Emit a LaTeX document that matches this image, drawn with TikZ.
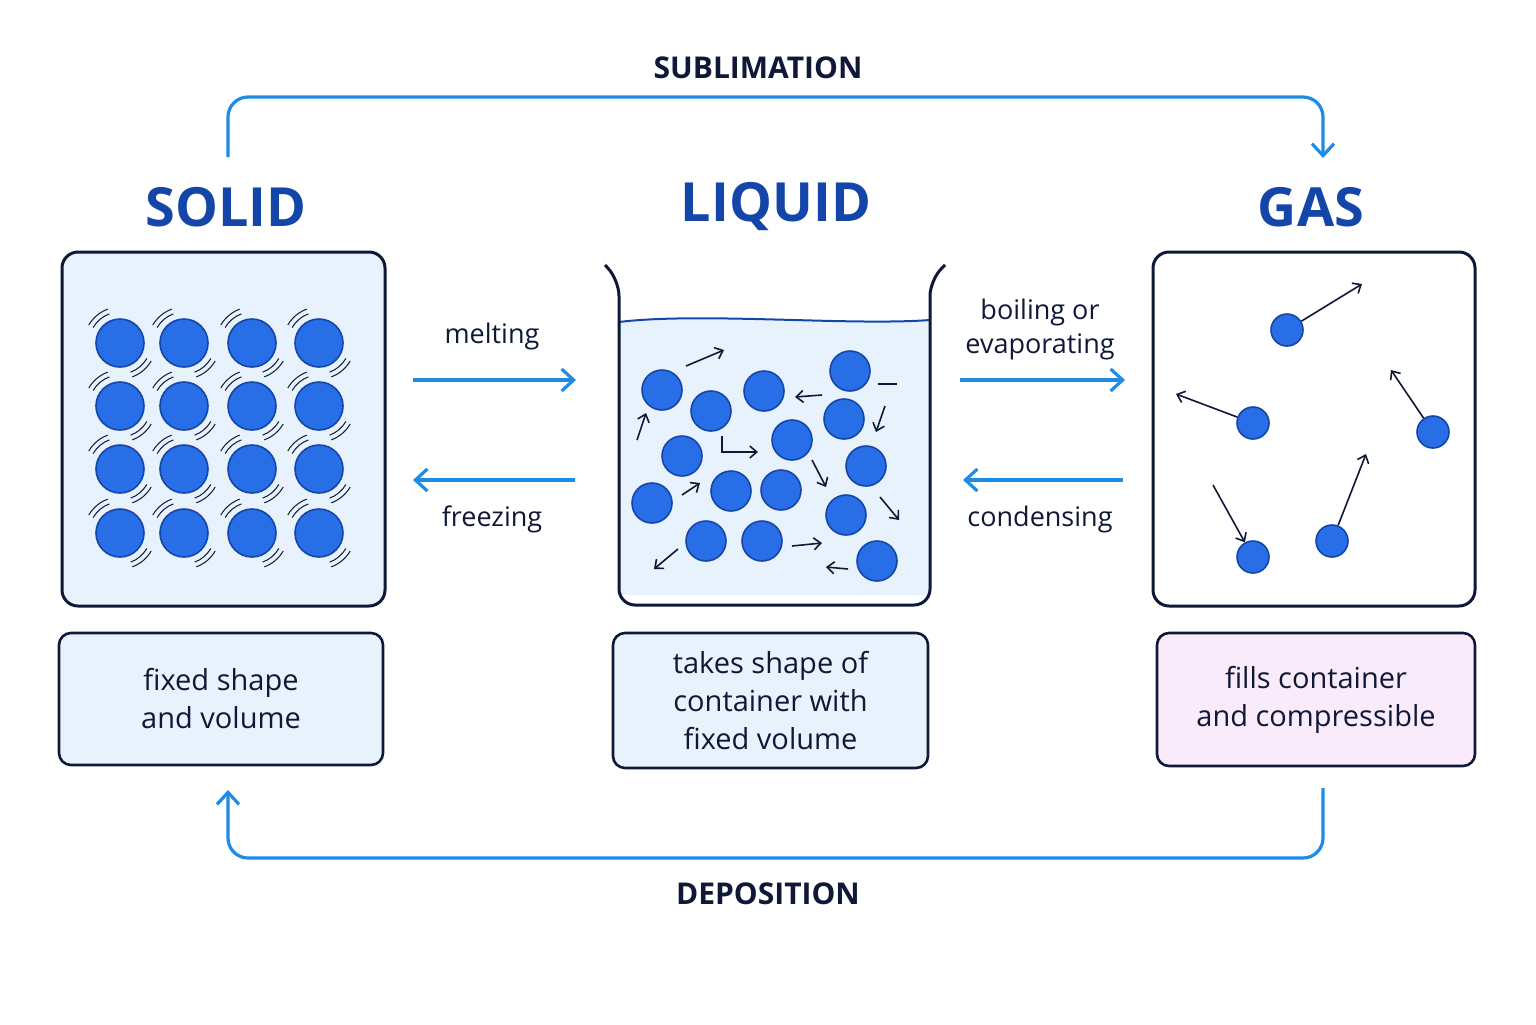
\documentclass[tikz,border=0pt]{standalone}
\usepackage{fontspec}
\setmainfont{Open Sans}
\usetikzlibrary{arrows.meta}
\definecolor{flowblue}{RGB}{30,140,230}
\definecolor{navy}{RGB}{15,25,55}
\definecolor{titleblue}{RGB}{20,70,170}
\definecolor{ballblue}{RGB}{40,110,230}
\definecolor{paleblue}{RGB}{232,242,252}
\definecolor{palepink}{RGB}{250,235,250}
\tikzset{
  flow/.style={draw=flowblue, line width=1.6pt, -{Straight Barb[length=6pt,width=11pt]}, rounded corners=10pt},
  phase/.style={font=\bfseries\fontsize{27}{30}\selectfont, text=titleblue},
  proc/.style={font=\fontsize{13.5}{16.5}\selectfont, text=navy, align=center},
  caption/.style={draw=navy, line width=1.3pt, rounded corners=6pt, font=\fontsize{14.5}{19}\selectfont, text=navy, align=center},
  ball/.style={circle, draw=titleblue, fill=ballblue, line width=0.8pt, inner sep=0pt},
  move/.style={draw=navy, line width=0.8pt, -{Straight Barb[length=3.5pt,width=6pt]}},
}
\begin{document}
\begin{tikzpicture}[x=0.5pt, y=-0.5pt]
  \useasboundingbox (0,0) rectangle (1536,1024);

  % titles
  \node[phase] (tsolid) at (226,207) {SOLID};
  \node[phase] (tliquid) at (776,207) {LIQUID};
  \node[phase] (tgas) at (1311,207) {GAS};

  % solid
  \draw[navy, fill=paleblue, line width=1.5pt, rounded corners=8pt] (62,252) rectangle (385,606);
  \foreach \x [count=\i] in {120,184,252,319}
    \foreach \y [count=\j] in {343,406,469,533} {
      \node[ball, minimum size=24pt] (s\i\j) at (\x,\y) {};
      \foreach \r in {15.5pt,18pt} {
        \draw[navy, line width=0.5pt] ([shift={(110:\r)}]s\i\j.center) arc (110:150:\r);
        \draw[navy, line width=0.5pt] ([shift={(290:\r)}]s\i\j.center) arc (290:330:\r);
      }
    }

  % liquid
  \fill[paleblue] (619,322) .. controls (700,312) and (850,326) .. (930,320) -- (930,595) -- (619,595) -- cycle;
  \draw[titleblue, line width=1pt] (619,322) .. controls (700,312) and (850,326) .. (930,320);
  \draw[navy, line width=1.5pt, rounded corners=8pt] (605,265) -- (619,280) -- (619,605) -- (930,605) -- (930,280) -- (945,265);
  \foreach \x/\y [count=\k] in {662/390,711/411,764/391,850/371,844/419,792/440,682/456,866/466,731/491,781/490,652/503,846/515,706/541,762/541,877/561}
    \node[ball, minimum size=20pt] (l\k) at (\x,\y) {};
  \draw[move] (686,366) -- (724,350);
  \draw[move] (637,440) -- (646,413);
  \draw[move] (722,436) -- (722,452) -- (758,452);
  \draw[move] (822,395) -- (795,397);
  \draw[navy, line width=0.8pt] (878,384) -- (897,384);
  \draw[move] (885,406) -- (876,432);
  \draw[move] (812,460) -- (826,487);
  \draw[move] (880,497) -- (899,520);
  \draw[move] (682,495) -- (700,483);
  \draw[move] (678,549) -- (654,569);
  \draw[move] (792,546) -- (822,543);
  \draw[move] (848,569) -- (826,567);

  % gas
  \draw[navy, fill=white, line width=1.5pt, rounded corners=8pt] (1153,252) rectangle (1475,606);
  \node[ball, minimum size=16pt] (g1) at (1287,330) {};
  \node[ball, minimum size=16pt] (g2) at (1253,423) {};
  \node[ball, minimum size=16pt] (g3) at (1433,432) {};
  \node[ball, minimum size=16pt] (g4) at (1332,541) {};
  \node[ball, minimum size=16pt] (g5) at (1253,557) {};
  \coordinate (m1) at (1362,284);
  \coordinate (m2) at (1176,394);
  \coordinate (m3) at (1391,370);
  \coordinate (m4) at (1366,454);
  \coordinate (m5) at (1213,485);
  \draw[move] (g1) -- (m1);
  \draw[move] (g2) -- (m2);
  \draw[move] (g3) -- (m3);
  \draw[move] (g4) -- (m4);
  \draw[move] (m5) -- (g5);

  % captions
  \node[caption, fill=paleblue, minimum width=162pt, minimum height=66pt] (csolid) at (221,699) {fixed shape\\and volume};
  \node[caption, fill=paleblue, minimum width=157.5pt, minimum height=67.5pt] (cliquid) at (770.5,700.5) {takes shape of\\container with\\fixed volume};
  \node[caption, fill=palepink, minimum width=159pt, minimum height=66.5pt] (cgas) at (1316,699.5) {fills container\\and compressible};

  % transitions between neighbours
  \coordinate (melt1) at (413,380);  \coordinate (melt2) at (576,380);
  \coordinate (frz1) at (575,480);   \coordinate (frz2) at (413,480);
  \coordinate (boil1) at (960,380);  \coordinate (boil2) at (1125,380);
  \coordinate (cond1) at (1123,480); \coordinate (cond2) at (963,480);
  \draw[flow] (melt1) -- (melt2);
  \draw[flow] (frz1) -- (frz2);
  \draw[flow] (boil1) -- (boil2);
  \draw[flow] (cond1) -- (cond2);
  \node[proc] (lmelt) at (492,336) {melting};
  \node[proc] (lfrz) at (492,519) {freezing};
  \node[proc, font=\fontsize{13.5}{17}\selectfont] (lboil) at (1040,329) {boiling or\\evaporating};
  \node[proc] (lcond) at (1040,519) {condensing};

  % sublimation and deposition
  \coordinate (sub1) at (228,157);
  \coordinate (sub2) at (1323,158);
  \draw[flow] (sub1) -- (228,97) -- (1323,97) -- (sub2);
  \node[proc, font=\bfseries\fontsize{15}{18}\selectfont] (lsub) at (758,68) {SUBLIMATION};
  \coordinate (dep1) at (1323,788);
  \coordinate (dep2) at (228,790);
  \draw[flow] (dep1) -- (1323,858) -- (228,858) -- (dep2);
  \node[proc, font=\bfseries\fontsize{15}{18}\selectfont] (ldep) at (768,894) {DEPOSITION};
\end{tikzpicture}
\end{document}
